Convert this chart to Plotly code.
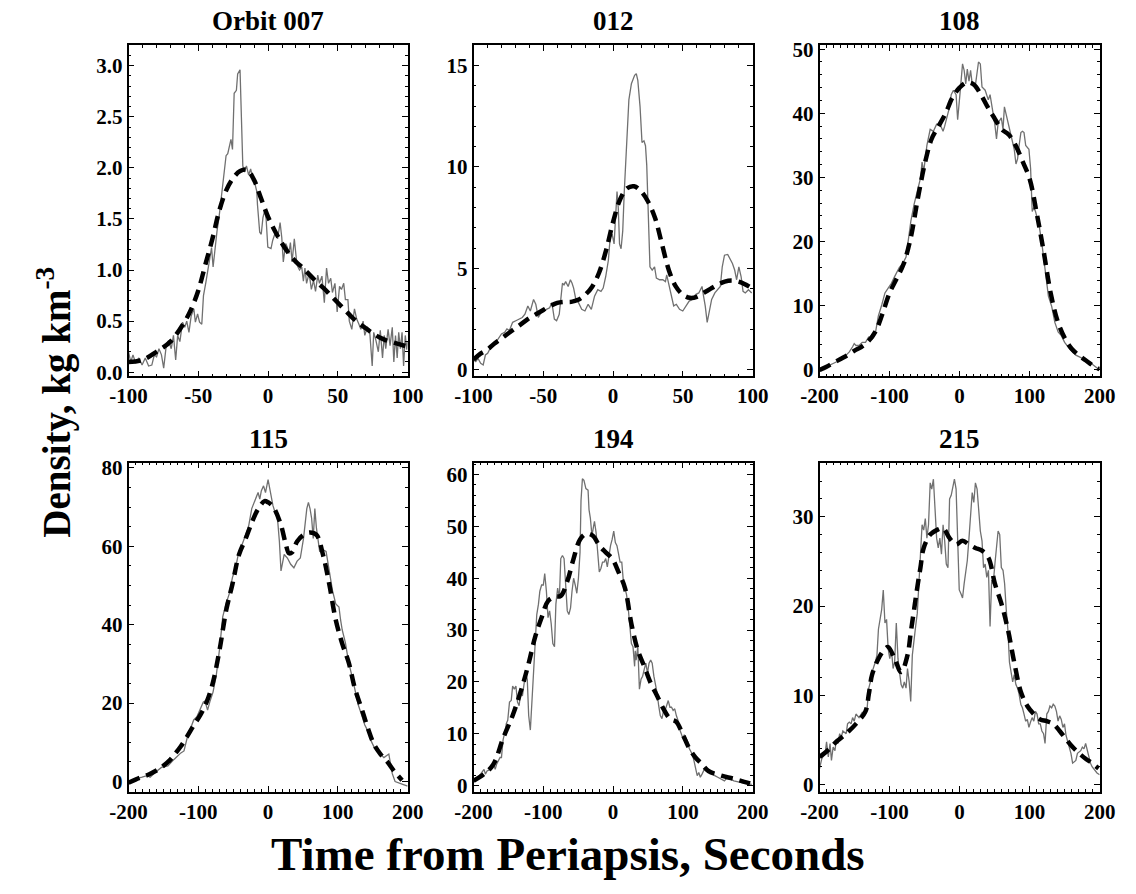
import plotly.graph_objects as go

FONT = "Liberation Serif"
GRAY = "#707070"

# ---------------- Orbit 007 ----------------
o007_time = [-100, -98.4, -96.8, -94.9, -92.6, -90.3, -88, -85.6, -83.3, -81.5, -79.9, -78.2, -76.4, -74.8,
             -72.9, -71.3, -69.4, -67.8, -66.2, -64.8, -63.2, -61.3, -59.7, -58.3, -56.7, -55.1, -53.2, -52.1,
             -50.5, -49.1, -47.5, -46.3, -44.7, -43.3, -41.7, -40.5, -39.4, -38.2, -36.6, -35.2, -33.6, -32.4,
             -31, -30.1, -28.9, -27.8, -26.6, -25.5, -24.3, -22.7, -21.8, -20.1, -19, -18.1, -16.9, -15.5,
             -13.9, -12.5, -11.1, -9.7, -8.1, -7.6, -6, -4.9, -3.7, -2.5, -1.4, -0.2, 2.1, 3.3, 5.6, 6.8, 8.6,
             9.8, 10.9, 12.6, 13.7, 14.9, 16.0, 17.2, 18.8, 20.7, 22.5, 24.1, 25.3, 26.4, 27.6, 29.4, 31, 32.6,
             34, 35.6, 36.8, 38.6, 40.3, 41.9, 43.3, 44.9, 46.1, 47.9, 49.5, 51.2, 52.6, 54.2, 55.4, 57.2, 58.2,
             60, 61.9, 63.5, 65.1, 66.5, 68.1, 69.3, 71.1, 72.7, 74.6, 75.7, 77.3, 79, 80.4, 82, 83.2, 84.3, 86,
             87.4, 89, 90.1, 91.3, 92.5, 93.6, 94.8, 96, 97.1, 98.3, 99.4, 100]
o007_density = [0.2, 0.1, 0.17, 0.09, 0.14, 0.07, 0.14, 0.06, 0.07, 0.17, 0.15, 0.23, 0.17, 0.04,
                0.27, 0.31, 0.23, 0.36, 0.12, 0.36, 0.30, 0.49, 0.44, 0.5, 0.39, 0.55, 0.62, 0.49,
                0.57, 0.49, 0.47, 0.75, 0.87, 1.0, 1.13, 1.22, 1.03, 1.19, 1.38, 1.51, 1.70, 1.90,
                2.06, 2.12, 2.14, 2.22, 2.28, 2.18, 2.73, 2.76, 2.92, 2.96, 2.41, 2.02, 1.96, 2.02,
                1.93, 1.99, 1.90, 1.86, 1.77, 1.64, 1.37, 1.35, 1.51, 1.58, 1.50, 1.225, 1.21, 1.29, 1.385, 1.305, 1.465,
                1.32, 1.08, 1.26, 1.225, 1.16, 1.27, 1.08, 1.305, 1.05, 1.0, 1.03, 0.89, 1.02, 0.87, 0.97, 0.81, 0.90,
                0.79, 0.95, 0.87, 0.94, 0.68, 1.02, 0.87, 0.92, 0.78, 0.87, 0.59, 0.84, 0.81, 0.87, 0.71, 0.71, 0.50,
                0.42, 0.62, 0.52, 0.47, 0.42, 0.50, 0.36, 0.44, 0.42, 0.06, 0.39, 0.31, 0.20, 0.41, 0.14, 0.36, 0.23, 0.42,
                0.26, 0.44, 0.10, 0.36, 0.14, 0.39, 0.23, 0.39, 0.06, 0.36, 0.22, 0.3]
o007_fit_time = [-100, -90, -80, -70, -60, -55, -50, -45, -40, -35, -30, -25, -20, -15, -10, -5, 0, 5, 10, 15,
                 20, 25, 30, 35, 40, 45, 50, 55, 60, 65, 70, 75, 80, 85, 90, 95, 100]
o007_fit_density = [0.1, 0.12, 0.2, 0.3, 0.49, 0.62, 0.8, 1.05, 1.3, 1.58, 1.78, 1.9, 1.97, 1.98, 1.88, 1.7,
                    1.52, 1.38, 1.26, 1.16, 1.08, 1.02, 0.95, 0.88, 0.82, 0.75, 0.68, 0.61, 0.54, 0.48, 0.43,
                    0.38, 0.34, 0.31, 0.29, 0.27, 0.25]

# ---------------- Orbit 012 ----------------
o012_time = [-100, -98.4, -96.8, -94.9, -93.1, -91.5, -89.9, -88, -86.4, -84.6, -82.3, -80, -77.7, -76.1, -74.3,
             -72, -69.7, -67.4, -65.1, -63.2, -61.1, -59.3, -57, -55.4, -53.6, -51.7, -50.1, -47.8, -45.5, -43.9,
             -42.1, -40.5, -38.6, -36.3, -35.2, -34, -32.2, -30.6, -29.4, -28.3, -26.7, -24.8, -22.5, -20.2,
             -17.9, -15.6, -13.3, -11, -8.7, -7.1, -5.3, -3.4, -2.1, -0.7, 0.7, 1.8, 2.8, 3.7, 4.6, 5.7, 6.9, 8,
             9.7, 11.3, 13.1, 15.4, 16.6, 17.7, 19.3, 20.7, 22.1, 23.2, 24.1, 25.3, 26.4, 28, 29.7, 31, 33.3,
             35.6, 37.5, 38.4, 40.2, 41.8, 43.4, 45.3, 47.6, 49.9, 52.2, 54.5, 56.8, 59.1, 61.4, 63.7, 64.8, 66,
             67.4, 69, 70.6, 72.9, 75.2, 76.8, 78.2, 79.8, 82.1, 83.9, 85.5, 87.1, 88.5, 90.1, 91.7, 93.1, 94.7,
             97, 99.3]
o012_density = [0.48, 0.4, 0.56, 0.32, 0.24, 0.73, 0.81, 1.05, 1.29, 1.29, 1.53, 1.77, 1.85, 2.02, 1.94,
                2.34, 2.42, 2.5, 2.58, 2.74, 3.15, 2.9, 3.47, 3.23, 2.58, 2.82, 2.9, 2.98, 3.06, 3.31,
                2.5, 2.42, 2.74, 4.27, 4.19, 4.35, 4.11, 4.44, 4.27, 4.03, 3.47, 3.31, 2.98, 2.9,
                3.23, 2.98, 3.63, 3.95, 3.87, 4.03, 4.6, 5.4, 6.53, 6.69, 6.21, 7.5, 8.79, 7.98, 6.21, 5.97, 6.85, 8.79,
                11.37, 13.31, 14.11, 14.52, 14.6, 14.27, 12.98, 11.21, 11.29, 11.05, 10.08, 7.66, 5.08, 4.92, 5.08, 4.52, 4.44,
                4.44, 4.35, 4.68, 4.11, 3.63, 3.15, 3.23, 2.98, 2.9, 3.15, 3.39, 3.47, 3.71, 3.79, 4.11, 3.63, 3.15,
                2.34, 2.98, 3.47, 3.79, 3.95, 4.11, 5.08, 5.65, 5.69, 5.48, 5.24, 4.92, 4.44, 5.08, 4.6, 3.87, 3.79,
                3.95, 3.79]
o012_fit_time = [-100, -95, -90, -85, -80, -75, -70, -65, -60, -55, -50, -45, -40, -35, -30, -25, -20, -15, -10,
                 -5, 0, 5, 10, 15, 20, 25, 30, 35, 40, 45, 50, 55, 60, 65, 70, 75, 80, 85, 90, 95, 100]
o012_fit_density = [0.5, 0.8, 1.0, 1.3, 1.55, 1.8, 2.05, 2.3, 2.55, 2.75, 2.95, 3.15, 3.3, 3.35, 3.35, 3.45, 3.7,
                    4.1, 4.8, 5.9, 7.3, 8.4, 8.95, 9.05, 8.8, 8.3, 7.5, 6.2, 4.9, 4.1, 3.7, 3.55, 3.6, 3.8, 4.0,
                    4.2, 4.35, 4.4, 4.35, 4.2, 4.0]

# ---------------- Orbit 108 ----------------
o108_time = [-200, -190, -180.6, -171, -162, -157.5, -152.8, -150.5, -148, -143.6, -139, -134.4, -130, -125,
             -120.5, -116, -111, -106.6, -102, -97.4, -93, -86, -81, -76.5, -74, -69.6, -65, -60.4, -56, -53.6,
             -51.3, -46.7, -42, -37.4, -32.8, -28, -23.6, -21.3, -19, -14.3, -12, -8.8, -5, -2.8, 0.5, 4.2, 6.5,
             8.8, 11, 13.4, 15.7, 18, 22.6, 27, 29.6, 32, 36.5, 41, 43.5, 48, 50.3, 52.7, 55, 59.6, 62, 64, 68.7,
             71, 73.4, 78, 80.5, 82.8, 85, 87.5, 89.8, 92, 94.4, 99, 101.4, 103.7, 106, 108.4, 110.7, 114, 117.6,
             122, 124.5, 126.8, 131.5, 136, 140.7, 145, 150, 157, 166, 175, 184.6, 194, 200]
o108_density = [-0.3, 0.5, 1.0, 1.5, 2.3, 2.8, 3.6, 4.1, 3.8, 3.8, 4.3, 4.3, 5.1, 4.8,
                5.6, 8.4, 10.2, 12.0, 12.75, 13.5, 14.5, 16.0, 16.6, 17.6, 19.6, 23.2, 25.8, 27.8, 29.8, 32.4,
                30.9, 35.0, 37.5, 37.2, 38.3, 38.3, 37.2, 38.0, 39.0, 41.0, 42.9, 43.6, 42.9, 39.0, 43.0, 47.7, 46.7,
                44.6, 46.9, 45.0, 46.7, 44.6, 44.4, 48.0, 47.7, 44.1, 43.6, 42.1, 42.9, 40.0, 38.3, 36.0, 38.5, 39.3, 37.5, 41.0, 38.8,
                38.0, 37.0, 34.4, 32.1, 32.9, 35.0, 37.0, 37.2, 37.0, 35.0, 34.4, 31.4, 24.7, 25.3, 24.7, 23.7, 22.2, 19.6,
                15.6, 13.0, 11.5, 9.9, 7.4, 5.9, 5.4, 4.3, 3.3, 2.3, 1.8, 1.3, 0.5, 0.0]
o108_fit_time = [-200, -190, -180, -170, -160, -150, -140, -130, -120, -110, -100, -90, -80, -70, -60, -50, -40,
                 -30, -20, -10, 0, 10, 20, 30, 40, 50, 60, 70, 80, 90, 100, 110, 120, 130, 140, 150, 160, 170,
                 180, 190, 200]
o108_fit_density = [0.0, 0.5, 1.1, 1.7, 2.3, 3.0, 3.6, 4.5, 6.0, 8.8, 12.0, 14.2, 16.5, 20.5, 26.5, 32.0, 36.0,
                    38.0, 40.0, 42.5, 44.0, 44.8, 44.5, 43.0, 41.0, 39.2, 37.5, 36.7, 35.0, 32.5, 29.8, 24.5,
                    18.5, 12.0, 7.6, 5.0, 3.3, 2.3, 1.5, 0.7, 0.1]

# ---------------- Orbit 115 ----------------
o115_time = [-199, -189.8, -180.6, -173.6, -169, -162, -152.8, -143.6, -134.4, -125, -120.5, -116, -111,
             -106.6, -102, -97.4, -92.8, -90.4, -86.7, -83.5, -78.9, -74.3, -69.6, -65, -60.4, -55.8, -51.1,
             -46.5, -41.9, -37.3, -32.6, -28, -23.4, -18.9, -14.3, -11.9, -9.7, -6.5, -3.7, 0, 2.3, 6.9, 9.2,
             11.6, 13.9, 16.2, 18.5, 20.8, 23.1, 27.7, 32.4, 37, 41.6, 46.2, 50.8, 55.5, 57.8, 60.1, 62.4, 64.7,
             67, 69.3, 71.6, 73.9, 78.5, 83.1, 87.7, 92.3, 97, 101.6, 103.9, 106.2, 110.9, 115.5, 120.1, 124.7,
             129.3, 134, 138.6, 143.2, 147.8, 152.4, 161.7, 166, 173, 178, 182, 188, 194, 200]
o115_density = [-0.2, 0.7, 1.1, 1.5, 1.1, 2.3, 3.6, 4.0, 5.7, 7.3, 7.8, 11.1, 13.6,
                15.7, 16.5, 18.6, 20.3, 20.5, 18.2, 20.3, 22.8, 27.0, 33.7, 42.0, 45.3, 47.8, 52.0,
                54.5, 58.7, 60.4, 62.9, 65.0, 69.6, 71.6, 73.7, 72.0, 74.1, 75.4, 73.7, 77.0, 74.6, 70.4, 69.1,
                68.7, 66.2, 61.2, 53.7, 56.2, 57.9, 57.0, 55.4, 54.5, 56.2, 57.0, 62.0, 69.6, 71.2, 69.6, 67.1, 62.0,
                69.6, 64.6, 62.0, 58.7, 59.1, 58.7, 53.7, 48.7, 45.3, 44.5, 41.2, 38.7, 35.3, 30.3, 27.0, 23.6,
                19.5, 17.0, 14.4, 12.8, 10.3, 8.6, 6.9, 6.1, 7.0, 2.0, 0.0, -0.5, -0.8, -1.2]
o115_fit_time = [-200, -190, -180, -171, -160, -153, -140, -134, -125, -116, -106, -97, -88, -79, -69.4, -60,
                 -51, -41.6, -32, -23, -14, -5, 0, 5, 9, 18.5, 25, 30, 34.7, 41.6, 50.8, 60, 69.4, 78.6, 87.6,
                 97, 106, 115.6, 124.6, 134, 143, 152, 161, 171, 180, 192]
o115_fit_density = [-0.3, 0.5, 1.2, 1.8, 2.8, 3.6, 5.6, 6.9, 9.0, 11.5, 14.5, 17.0, 20.3, 25.3, 33.7, 43.7,
                    50.4, 57.9, 62.0, 66.2, 69.6, 71.5, 71.2, 70.5, 69.6, 65.4, 60.8, 58.2, 58.5, 61.2, 62.9,
                    63.5, 62.9, 57.9, 50.4, 41.2, 35.3, 30.3, 23.6, 18.6, 13.6, 9.4, 7.0, 5.0, 2.8, 0.3]

# ---------------- Orbit 194 ----------------
o194_time = [-200, -194.5, -190, -185, -183, -180.7, -176, -171.5, -169, -167, -162, -160, -157.7, -155, -153,
             -151, -148.5, -146, -144, -141.6, -139.3, -137, -134.7, -132.4, -130, -128, -125.5, -123, -121,
             -118.6, -116, -114, -111.7, -109.4, -107, -105, -102.5, -100, -98, -95.6, -93.3, -91, -88.7, -86.4,
             -84, -82, -79.5, -77, -75, -72.6, -70.3, -68, -65.7, -63.4, -61, -58.9, -56.6, -54.3, -52, -49.7,
             -47.4, -46, -44, -41.8, -39, -35.9, -34.5, -32.6, -30.3, -28, -26.7, -24.4, -22, -19.8, -17.5,
             -15.2, -12.9, -10.6, -8.3, -6, -3.7, -1.4, 0.9, 3.2, 5.5, 7.8, 10, 12.4, 14.7, 17, 19.3, 21.6, 23.9,
             26.2, 28.5, 30.8, 31.7, 33, 35.4, 37.7, 40, 42.3, 44.6, 46.9, 49.2, 51.5, 53.8, 56, 58.4, 60.7, 63,
             65.3, 67.6, 70, 72, 74.5, 76.8, 79, 81.4, 83.7, 86, 88.3, 90.6, 92.9, 95, 97.5, 100, 102, 104.4,
             106.7, 109, 113.6, 116, 118, 120.5, 122.8, 125, 127.4, 129.7, 132, 136.6, 141, 145.7, 150, 155,
             159.5, 164, 168.7, 173, 182.5, 191.7, 198.6]
o194_density = [0.9, 1.6, 2.2, 3.1, 2.2, 2.8, 3.1, 4.4, 3.1, 4.1, 5.4, 5.4, 8.8, 10.4, 12.0,
                12.6, 16.1, 16.4, 19.2, 18.6, 19.2, 16.1, 15.4, 18.0, 17.3, 19.2, 21.7, 20.5, 13.5,
                10.7, 17.3, 23.6, 27.4, 33.0, 35.0, 37.5, 38.7, 38.7, 40.9, 37.5, 32.4, 33.7, 31.2, 27.4,
                26.8, 35.0, 38.1, 36.2, 43.8, 44.4, 43.8, 38.7, 33.7, 33.0, 34.3, 37.5, 40.0, 38.7, 37.1, 40.0,
                45.0, 55.0, 59.2, 58.9, 57.3, 57.0, 53.2, 51.6, 48.2, 50.0, 51.0, 48.8, 45.0, 41.2, 41.9,
                43.1, 43.1, 43.8, 42.2, 44.4, 46.3, 47.5, 49.1, 46.9, 46.3, 44.7, 43.1, 43.1, 39.4, 38.1, 36.8, 34.3, 31.2,
                27.4, 26.8, 23.0, 26.0, 24.2, 26.8, 18.6, 20.5, 21.1, 22.4, 23.6, 21.7, 23.6, 24.2, 23.6, 21.1, 19.8, 17.9,
                15.4, 13.5, 12.9, 14.2, 14.5, 15.7, 16.4, 15.1, 15.1, 14.5, 14.8, 13.5, 12.6, 11.0, 9.8, 9.1, 9.8, 9.1,
                8.5, 7.2, 6.0, 4.7, 3.1, 1.9, 2.5, 1.6, 2.2, 2.8, 3.5, 3.1, 2.5, 1.9, 1.6, 1.3,
                0.9, 1.6, 1.3, 0.9, 0.6, 0.4, 0.2]
o194_fit_time = [-200, -185, -171.5, -157.7, -144, -130, -121, -111.7, -102.5, -93.3, -84, -75, -65.7, -56.6,
                 -47.4, -38.2, -29, -19.8, -10.6, -1.4, 7.8, 17, 26.2, 35.4, 44.6, 53.8, 63, 72.2, 81.4, 90.6,
                 100, 109, 118, 127.4, 136.6, 155, 173, 196.3]
o194_fit_density = [0.9, 2.2, 4.1, 9.1, 13.5, 19.2, 23.6, 28.7, 32.4, 35.6, 36.4, 36.6, 39.4, 43.8, 47.5, 48.6,
                    48.2, 46.3, 45.0, 43.8, 41.2, 38.1, 31.2, 26.1, 23.0, 19.8, 17.3, 14.8, 12.9, 12.3, 9.8, 7.2,
                    5.4, 4.1, 2.8, 1.9, 1.3, 0.4]

# ---------------- Orbit 215 ----------------
o215_time = [-200, -196.8, -192, -190, -187.5, -185, -183, -180.6, -178, -176, -173.6, -171.3, -169, -166.7,
             -162, -160, -157.5, -155, -152.8, -150.5, -148, -143.6, -139, -134.4, -132, -129.7, -127.4, -125,
             -120.5, -118, -115.9, -113.6, -111.3, -109, -106.6, -104.3, -102, -99.7, -97.4, -95, -92.8, -90.4,
             -88, -85.8, -83.5, -81.2, -79, -76.5, -74.4, -72, -69.8, -67.5, -65, -62.8, -60.4, -58.2, -55.9,
             -53.6, -51.3, -49, -46.7, -44.4, -42, -39.8, -37.4, -35, -32.8, -30.5, -28.2, -25.9, -23.6, -21.3,
             -19, -16.6, -14.3, -12, -9.7, -7.4, -5, -2.8, -0.5, 1.8, 4.2, 6.5, 8.8, 11, 13.4, 15.7, 18, 20.3,
             22.6, 25, 27.3, 29.6, 32, 34.2, 36.5, 38.8, 41.2, 43.5, 45.8, 48, 50.4, 52.7, 55, 57.3, 59.6, 62,
             64.3, 66.6, 68.9, 71.2, 73.5, 75.8, 78, 80.4, 82.7, 85, 87.4, 89.7, 92, 94.3, 96.7, 99, 101.3,
             103.6, 106, 108.3, 110.6, 112.9, 115.2, 117.5, 119.9, 122, 124.5, 126.8, 129, 131.5, 133.7, 136,
             138.3, 140.6, 142.9, 145.2, 147.5, 149.8, 152, 154.4, 156.8, 159, 161.4, 163.7, 166, 168.3, 170.7,
             173, 175.3, 177.6, 180, 182.2, 184.6, 186.9, 189.2, 191.5, 193.9, 196.2, 200]
o215_density = [1.8, 2.9, 3.5, 4.8, 3.1, 4.6, 2.7, 4.2, 3.8, 5.1, 4.6, 5.7, 5.3, 6.0,
                5.7, 6.8, 7.0, 6.8, 7.5, 7.1, 7.9, 7.5, 8.1, 7.9, 8.6, 10.8, 11.5, 12.6,
                13.7, 14.5, 17.4, 18.8, 19.6, 21.8, 18.1, 18.5, 15.2, 14.1, 15.2, 13.0, 13.7, 18.1,
                14.1, 12.6, 11.2, 10.8, 11.5, 10.8, 13.0, 11.5, 9.3, 14.5, 15.9, 17.7, 19.2, 22.5, 26.9,
                29.1, 28.5, 29.8, 27.6, 29.1, 33.8, 33.1, 34.2, 30.2, 27.6, 26.5, 27.6, 25.8, 29.1, 27.3,
                24.7, 24.3, 32.0, 32.4, 33.5, 34.2, 33.1, 26.9, 21.8, 21.4, 20.9, 22.5, 24.0, 25.1, 27.6, 30.2, 32.7, 31.6,
                33.8, 33.1, 30.2, 28.4, 27.3, 24.3, 24.7, 23.2, 24.0, 17.7, 22.9, 22.5, 24.7, 26.9, 28.4, 28.0, 24.3, 24.0,
                22.5, 19.6, 17.4, 13.7, 12.6, 11.5, 12.3, 11.2, 10.8, 10.1, 9.0, 8.6, 7.9, 7.1, 7.3, 6.4, 7.0,
                7.5, 7.1, 8.2, 7.9, 6.8, 6.8, 6.0, 5.7, 4.6, 7.9, 8.2, 8.8, 8.6, 9.0, 8.8,
                8.2, 7.1, 7.7, 7.3, 6.4, 6.8, 5.5, 4.9, 4.2, 3.5, 2.4, 2.6, 2.7, 3.5, 3.7,
                3.8, 4.2, 4.0, 4.6, 3.8, 3.3, 2.4, 2.0, 1.8, 1.6, 1.3, 1.1]
o215_fit_time = [-200, -190, -176, -162, -148, -134.4, -129.7, -125, -115.9, -106.6, -102, -92.8, -83.5, -74.4,
                 -69.8, -65, -60.4, -55.9, -51.3, -42, -32.8, -23.6, -14.3, -5, 4.2, 13.4, 22.6, 32, 41.2, 50.4,
                 59.6, 68.9, 78, 87.4, 96.7, 106, 115.2, 124.5, 133.7, 142.9, 152, 161.4, 170.7, 180, 189.2, 198.5]
o215_fit_density = [3.1, 3.7, 4.8, 5.7, 6.8, 8.2, 10.1, 12.3, 14.1, 15.2, 15.4, 14.1, 12.6, 14.5, 17.0, 19.6,
                    22.1, 24.3, 26.5, 28.0, 28.5, 28.7, 27.6, 26.9, 27.3, 26.9, 26.5, 26.2, 25.4, 22.5, 20.3,
                    17.4, 13.7, 10.4, 8.8, 7.9, 7.3, 7.1, 6.8, 6.0, 5.1, 4.2, 3.5, 2.9, 2.4, 1.8]

# ---------------- panel settings ----------------
titles = ["Orbit 007", "012", "108", "115", "194", "215"]
x_ranges = [[-100, 100], [-100, 100], [-200, 200], [-200, 200], [-200, 200], [-200, 200]]
y_ranges = [[-0.04, 3.2], [-0.32, 16.0], [-1.0, 50.6], [-2.6, 81.3], [-1.2, 62.3], [-0.8, 36.05]]
x_tick_vals_short = [-100, -50, 0, 50, 100]
x_tick_vals_long = [-200, -100, 0, 100, 200]
y_tick_vals = [[0, 0.5, 1.0, 1.5, 2.0, 2.5, 3.0], [0, 5, 10, 15], [0, 10, 20, 30, 40, 50],
               [0, 20, 40, 60, 80], [0, 10, 20, 30, 40, 50, 60], [0, 10, 20, 30]]
y_tick_text = [["0.0", "0.5", "1.0", "1.5", "2.0", "2.5", "3.0"], ["0", "5", "10", "15"],
               ["0", "10", "20", "30", "40", "50"], ["0", "20", "40", "60", "80"],
               ["0", "10", "20", "30", "40", "50", "60"], ["0", "10", "20", "30"]]
y_minor = [0.1, 1, 2, 5, 2, 2]

series = [(o007_time, o007_density, o007_fit_time, o007_fit_density),
          (o012_time, o012_density, o012_fit_time, o012_fit_density),
          (o108_time, o108_density, o108_fit_time, o108_fit_density),
          (o115_time, o115_density, o115_fit_time, o115_fit_density),
          (o194_time, o194_density, o194_fit_time, o194_fit_density),
          (o215_time, o215_density, o215_fit_time, o215_fit_density)]

W, H = 1136, 894
col_px = [(113, 401), (469, 757), (826, 1115)]
row_px = [(38, 375), (463, 798)]

fig = go.Figure()
layout = {}
annotations = []
tickfont = dict(family=FONT, size=21, color="black", weight="bold")

for i, (t, d, ft, fd) in enumerate(series):
    r, c = divmod(i, 3)
    xn = "x" if i == 0 else f"x{i+1}"
    yn = "y" if i == 0 else f"y{i+1}"
    fig.add_trace(go.Scatter(x=t, y=d, mode="lines", line=dict(color=GRAY, width=1.3),
                             xaxis=xn, yaxis=yn, showlegend=False, hoverinfo="skip"))
    fig.add_trace(go.Scatter(x=ft, y=fd, mode="lines", line=dict(color="black", width=4.5, dash="12px,7px"),
                             xaxis=xn, yaxis=yn, showlegend=False, hoverinfo="skip", line_shape="spline"))
    xdom = [col_px[c][0] / W, col_px[c][1] / W]
    ydom = [(H - row_px[r][1]) / H, (H - row_px[r][0]) / H]
    xt = x_tick_vals_short if i < 2 else x_tick_vals_long
    common = dict(showline=True, linecolor="black", linewidth=1.5, mirror="allticks", ticks="inside",
                  ticklen=6, tickwidth=1.3, tickcolor="black", showgrid=False, zeroline=False,
                  tickfont=tickfont, tickmode="array")
    layout["xaxis" if i == 0 else f"xaxis{i+1}"] = dict(
        domain=xdom, range=x_ranges[i], anchor=yn, tickvals=xt, ticktext=[str(v) for v in xt],
        minor=dict(ticks="inside", ticklen=3, tickwidth=1, tickcolor="black", dtick=10, tick0=0, showgrid=False),
        **common)
    layout["yaxis" if i == 0 else f"yaxis{i+1}"] = dict(
        domain=ydom, range=y_ranges[i], anchor=xn, tickvals=y_tick_vals[i], ticktext=y_tick_text[i],
        minor=dict(ticks="inside", ticklen=3, tickwidth=1, tickcolor="black", dtick=y_minor[i], tick0=0,
                   showgrid=False),
        **common)
    annotations.append(dict(text=f"<b>{titles[i]}</b>", xref="paper", yref="paper",
                            x=(xdom[0] + xdom[1]) / 2, y=ydom[1], yshift=7, xanchor="center", yanchor="bottom",
                            showarrow=False, font=dict(family=FONT, size=27, color="black")))

annotations.append(dict(text="<b>Density, kg km<sup>-3</sup></b>", xref="paper", yref="paper",
                        x=37 / W, y=(H - 401) / H, textangle=-90, xanchor="center", yanchor="middle",
                        showarrow=False, font=dict(family=FONT, size=39, color="black")))
annotations.append(dict(text="<b>Time from Periapsis, Seconds</b>", xref="paper", yref="paper",
                        x=566 / W, y=(H - 861) / H, xanchor="center", yanchor="middle",
                        showarrow=False, font=dict(family=FONT, size=47, color="black")))

fig.update_layout(width=W, height=H, margin=dict(l=0, r=0, t=0, b=0), paper_bgcolor="white",
                  plot_bgcolor="white", annotations=annotations, **layout)
fig.write_html("out.html")
